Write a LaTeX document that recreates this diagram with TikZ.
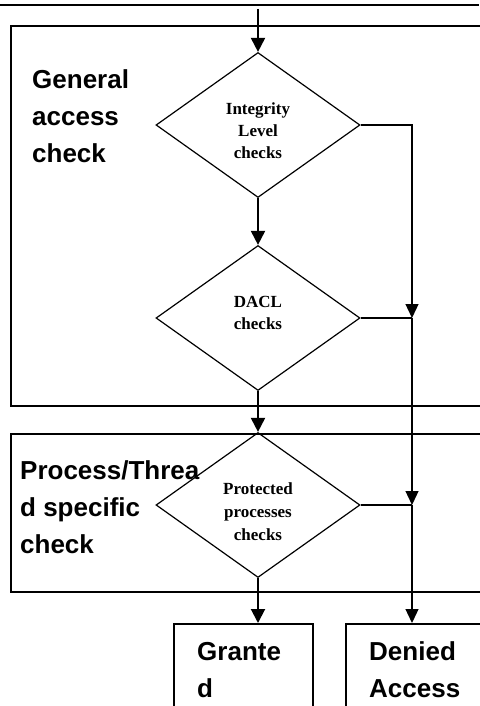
\documentclass[tikz,border=0pt]{standalone}
\usepackage{fontspec}
\setmainfont{Liberation Serif}
\newfontfamily\arialb{Liberation Sans}
\usetikzlibrary{shapes.geometric,arrows.meta}
\begin{document}
\begin{tikzpicture}[x=1pt,y=-1pt,
  frame/.style={draw,line width=1.6pt,inner sep=0pt,anchor=north west},
  dia/.style={draw,diamond,line width=1.2pt,inner sep=0pt,minimum width=204pt,minimum height=145pt},
  dtext/.style={font=\fontsize{17}{22}\selectfont\bfseries,align=center,inner sep=0pt},
  big/.style={font=\arialb\fontsize{26}{37}\selectfont\bfseries,align=left,inner sep=0pt,anchor=base west},
  flow/.style={line width=2pt,-{Triangle[length=14pt,width=14pt]}},
  side/.style={line width=1.3pt},
  sidearr/.style={line width=1.3pt,-{Triangle[length=14pt,width=13pt]}}]
\useasboundingbox (0,0) rectangle (479,706);
\draw[line width=2.2pt] (0,5) -- (479,5);
% region frames
\node[frame,minimum width=480pt,minimum height=380pt] (gen) at (10,25) {};
\node[frame,minimum width=480pt,minimum height=158pt] (proc) at (10,433) {};
% end boxes
\node[frame,minimum width=139pt,minimum height=100pt] (granted) at (173,623) {};
\node[frame,minimum width=140pt,minimum height=100pt] (denied) at (345,623) {};
% diamonds
\node[dia] (d1) at (258,125) {};
\node[dia] (d2) at (258,318) {};
\node[dia] (d3) at (258,505) {};
\node[dtext,anchor=base] (t1) at (258,158) {Integrity\\Level\\checks};
\node[dtext,anchor=base] (t2) at (258,329) {DACL\\checks};
\node[dtext,anchor=base,font=\fontsize{17}{23}\selectfont\bfseries] (t3) at (258,540) {Protected\\processes\\checks};
% labels
\node[big] (l1) at (32,162) {General\\access\\check};
\node[big] (l2) at (20,553) {Process/Threa\\d specific\\check};
\node[big] (l3) at (197,697) {Grante\\d};
\node[big] (l4) at (369,697) {Denied\\Access};
% connectors
\coordinate (start) at (258,9);
\coordinate (j1) at (412,318);
\coordinate (j2) at (412,505);
\draw[flow] (start) -- (d1.north);
\draw[flow] (d1.south) -- (d2.north);
\draw[flow] (d2.south) -- (d3.north);
\draw[flow] (d3.south) -- (d3.south |- granted.north);
\draw[sidearr] (d1.east) -| (j1);
\draw[side] (d2.east) -- (j1);
\draw[sidearr] (j1) -- (j2);
\draw[side] (d3.east) -- (j2);
\draw[sidearr] (j2) -- (j2 |- denied.north);
\end{tikzpicture}
\end{document}
